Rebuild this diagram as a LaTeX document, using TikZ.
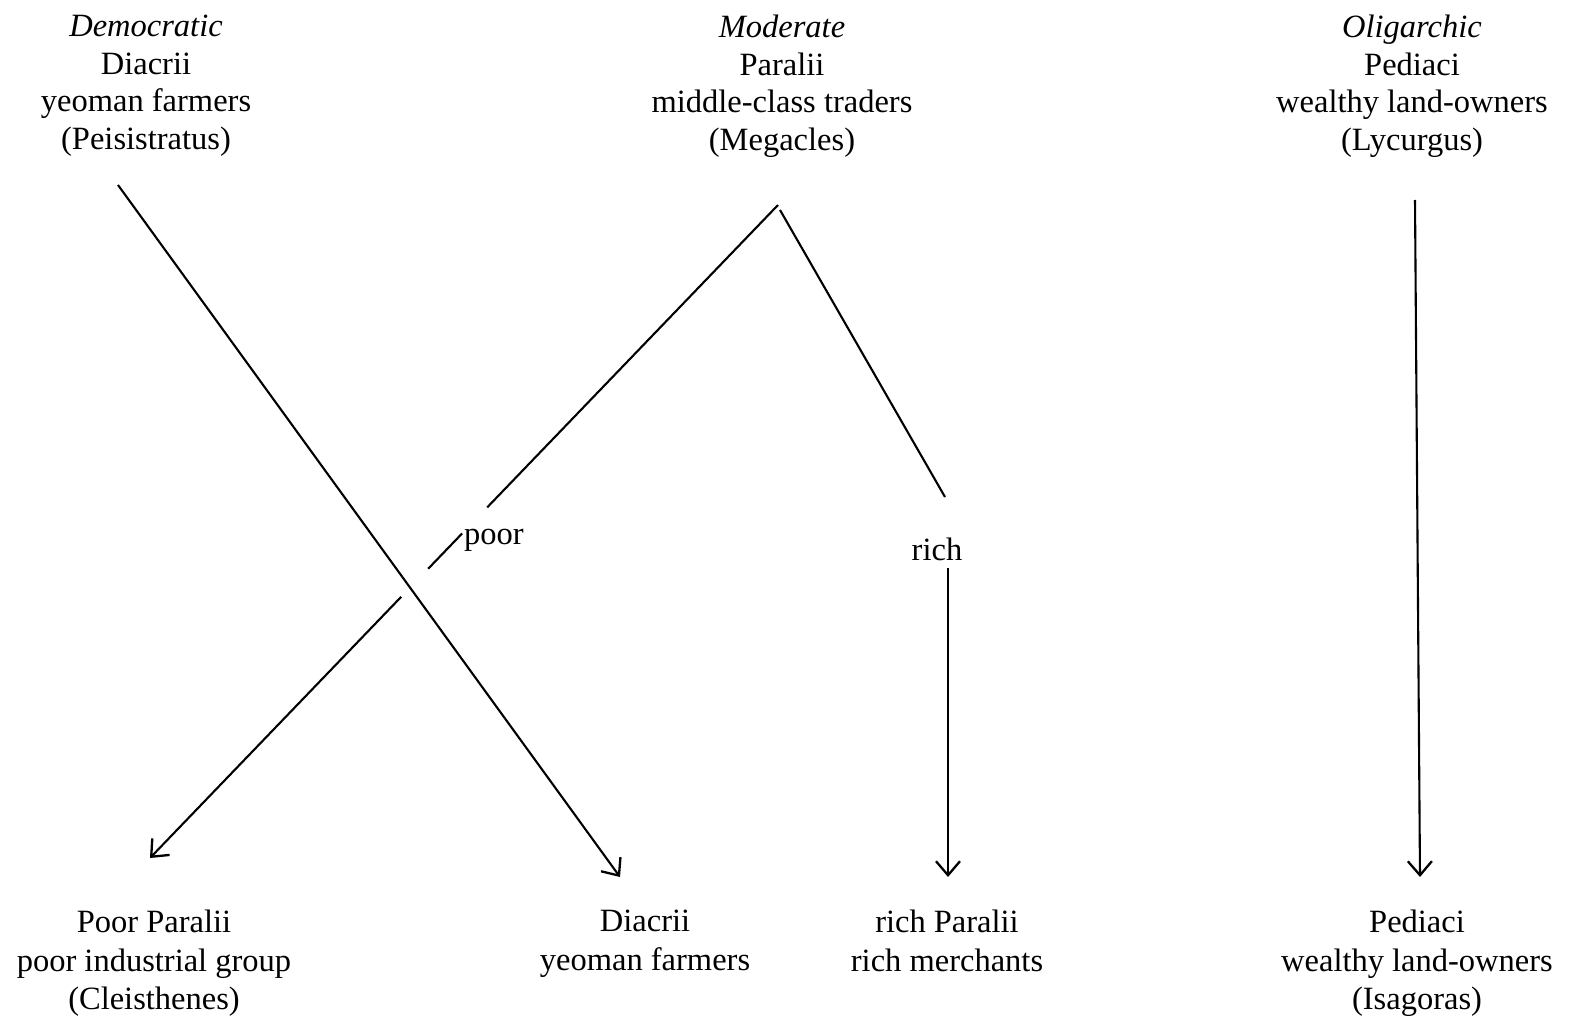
\documentclass[tikz,border=0pt]{standalone}
\usepackage{fontspec}
\setmainfont{Liberation Serif}
\usetikzlibrary{arrows.meta,calc}
\begin{document}
\begin{tikzpicture}[x=1pt,y=-1pt,
  lbl/.style={align=center,font=\fontsize{32.5}{37.5}\selectfont,inner sep=0pt},
  blbl/.style={align=center,font=\fontsize{32.5}{38.5}\selectfont,inner sep=0pt},
  wlbl/.style={font=\fontsize{32.5}{37.5}\selectfont,inner sep=0pt},
  conn/.style={line width=2.1pt},
  arr/.style={conn,-{Straight Barb[length=14pt,width=24pt,line width=2.3pt]}}]
\useasboundingbox (0,0) rectangle (1569,1019);
% top nodes
\node[lbl,anchor=north] (dem) at (146,15) {\textit{Democratic}\\Diacrii\\yeoman farmers\\(Peisistratus)};
\node[lbl,anchor=north] (mod) at (782,15) {\textit{Moderate}\\Paralii\\middle-class traders\\(Megacles)};
\node[lbl,anchor=north] (oli) at (1412,15) {\textit{Oligarchic}\\Pediaci\\wealthy land-owners\\(Lycurgus)};
% bottom nodes
\node[blbl,anchor=north] (pp) at (154,910) {Poor Paralii\\poor industrial group\\(Cleisthenes)};
\node[blbl,anchor=north] (dd) at (645,910) {Diacrii\\yeoman farmers};
\node[blbl,anchor=north] (rp) at (947,910) {rich Paralii\\rich merchants};
\node[blbl,anchor=north] (pd) at (1417,910) {Pediaci\\wealthy land-owners\\(Isagoras)};
% branch labels
\node[wlbl] (poor) at (494,540) {poor};
\node[wlbl] (rich) at (937,549) {rich};
% connector ends
\coordinate (dA) at (118,185);
\coordinate (dB) at (620,877);
\coordinate (mA) at (778,205);
\coordinate (pB) at (150,858);
\coordinate (rA) at (780,210);
\coordinate (rB) at (945,497);
\coordinate (rC) at (948,568);
\coordinate (rD) at (948,877);
\coordinate (oA) at (1415,200);
\coordinate (oB) at (1420,877);
% Diacrii
\draw[arr] (dA) -- (dB);
% poor branch (broken at label and at crossing)
\draw[conn] (mA) -- ($(mA)!0.463!(pB)$);
\draw[conn] ($(mA)!0.503!(pB)$) -- ($(mA)!0.557!(pB)$);
\draw[arr] ($(mA)!0.600!(pB)$) -- (pB);
% rich branch
\draw[conn] (rA) -- (rB);
\draw[arr] (rC) -- (rD);
% oligarchic
\draw[arr] (oA) -- (oB);
\end{tikzpicture}
\end{document}
